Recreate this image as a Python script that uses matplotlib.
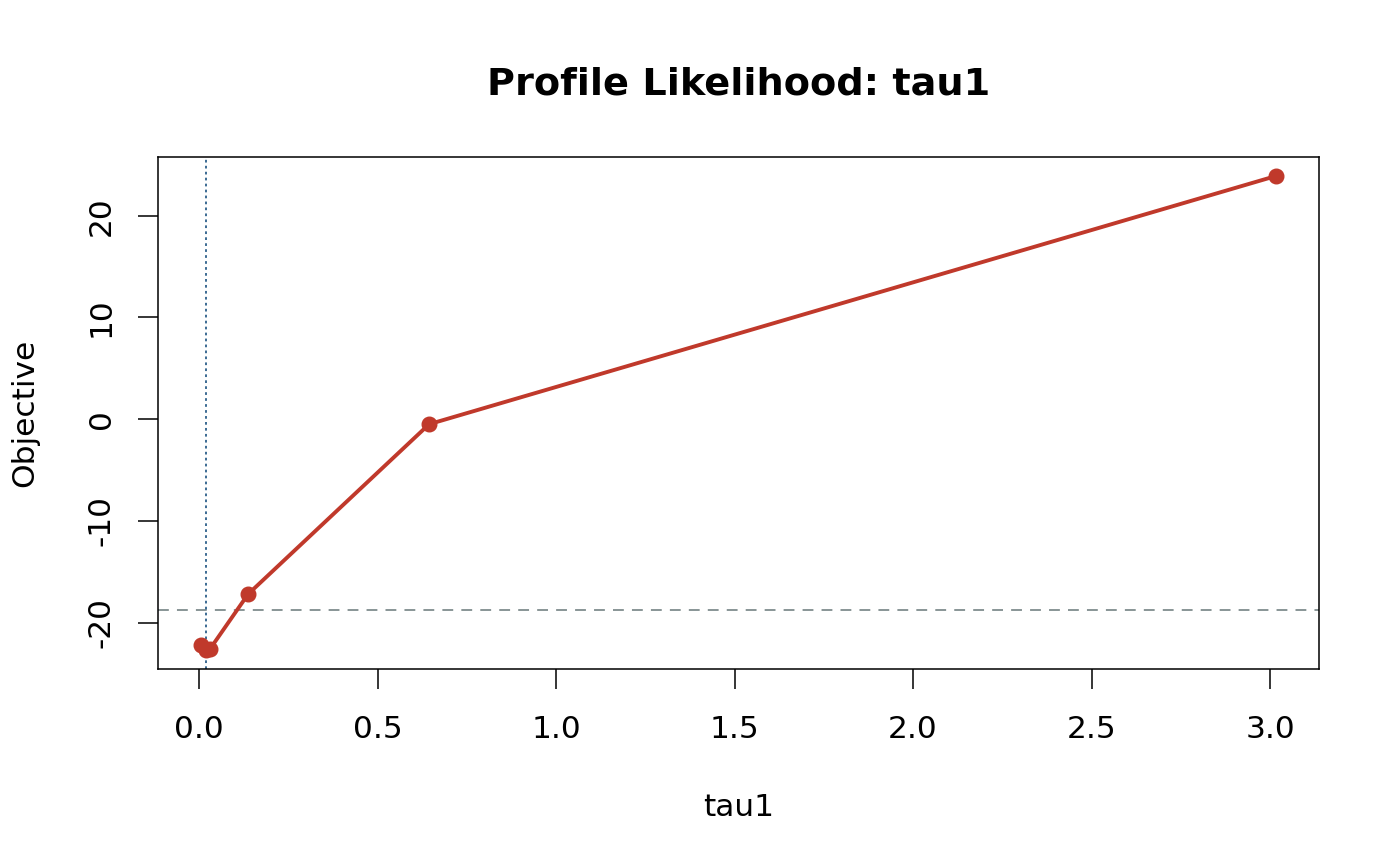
import numpy as np
import matplotlib
matplotlib.use('Agg')
import matplotlib.pyplot as plt

# profile likelihood values
tau1 = [0.005, 0.019, 0.030, 0.137, 0.644, 3.017]
objective = [-22.2, -22.7, -22.6, -17.2, -0.5, 23.9]
mle_tau1 = 0.019
threshold = -18.8
x_ticks = [0.0, 0.5, 1.0, 1.5, 2.0, 2.5, 3.0]
y_ticks = [-20, -10, 0, 10, 20]

plt.rcParams['font.family'] = ['DejaVu Sans']

fig = plt.figure(figsize=(14, 8.66), dpi=100)
ax = fig.add_axes([0.1129, 0.2275, 0.8293, 0.5912])

ax.plot(tau1, objective, color='#c0392b', linewidth=2.8, marker='o',
        markersize=10.5, zorder=3)
ax.axhline(threshold, color='#7f8c8d', linewidth=1.3, linestyle=(0, (6, 4.5)), zorder=2)
ax.axvline(mle_tau1, color='#2c5f8a', linewidth=1.3, linestyle=(0, (1.5, 1.8)), zorder=2)

# R-style 4% axis expansion
xr = max(tau1) - min(tau1)
yr = max(objective) - min(objective)
ax.set_xlim(min(tau1) - 0.04 * xr, max(tau1) + 0.04 * xr)
ax.set_ylim(min(objective) - 0.04 * yr, max(objective) + 0.04 * yr)

ax.set_xticks(x_ticks)
ax.set_xticklabels([f'{v:.1f}' for v in x_ticks])
ax.set_yticks(y_ticks)
ax.set_yticklabels([str(v) for v in y_ticks], rotation=90, va='center')

ax.tick_params(axis='x', direction='out', length=14.4, width=1.1,
               labelsize=22.5, pad=19)
ax.tick_params(axis='y', direction='out', length=14.4, width=1.1,
               labelsize=22.5, pad=16)
for s in ax.spines.values():
    s.set_linewidth(1.1)

ax.set_title('Profile Likelihood: tau1', fontsize=27.5, fontweight='bold', pad=45)
ax.set_xlabel('tau1', fontsize=22.5, labelpad=35)
ax.set_ylabel('Objective', fontsize=22.5, labelpad=34)

fig.savefig('out.png', dpi=100)
